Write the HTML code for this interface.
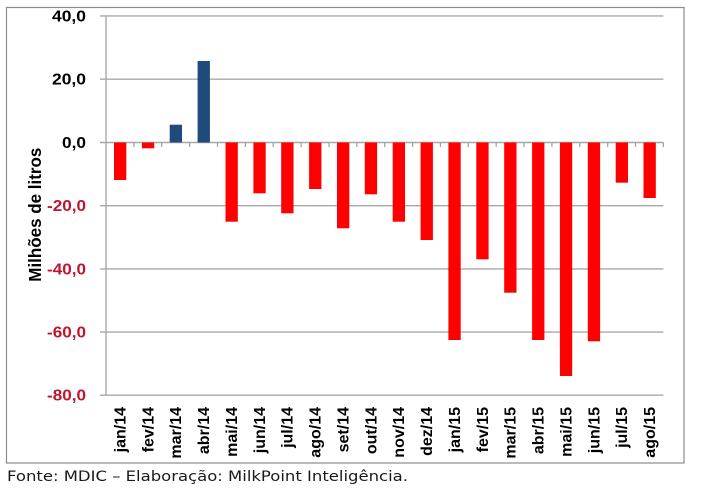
<!DOCTYPE html>
<html>
<head>
<meta charset="utf-8">
<style>
  html,body{margin:0;padding:0;background:#fff;}
  svg{display:block;}
</style>
</head>
<body>
<svg width="701" height="491" viewBox="0 0 701 491" xmlns="http://www.w3.org/2000/svg">
  <rect x="0" y="0" width="701" height="491" fill="#ffffff"/>
  <!-- outer border -->
  <rect x="6.5" y="7.5" width="677.5" height="455.5" fill="none" stroke="#8c8c8c" stroke-width="1.2"/>

  <!-- gridlines -->
  <g stroke="#a8a8a8" stroke-width="1.4">
    <line x1="100" y1="15.9" x2="663.4" y2="15.9"/>
    <line x1="100" y1="79.2" x2="663.4" y2="79.2"/>
    <line x1="100" y1="205.7" x2="663.4" y2="205.7"/>
    <line x1="100" y1="268.9" x2="663.4" y2="268.9"/>
    <line x1="100" y1="332.1" x2="663.4" y2="332.1"/>
    <line x1="100" y1="395.2" x2="663.4" y2="395.2"/>
    <line x1="100" y1="142.5" x2="663.4" y2="142.5"/>
    <!-- y axis -->
    <line x1="106" y1="15.9" x2="106" y2="395.2"/>
  </g>

  <!-- x ticks on zero line -->
  <g stroke="#a0a0a0" stroke-width="1.2">
    <line x1="133.9" y1="142.5" x2="133.9" y2="147"/>
    <line x1="161.7" y1="142.5" x2="161.7" y2="147"/>
    <line x1="189.6" y1="142.5" x2="189.6" y2="147"/>
    <line x1="217.5" y1="142.5" x2="217.5" y2="147"/>
    <line x1="245.4" y1="142.5" x2="245.4" y2="147"/>
    <line x1="273.2" y1="142.5" x2="273.2" y2="147"/>
    <line x1="301.1" y1="142.5" x2="301.1" y2="147"/>
    <line x1="329.0" y1="142.5" x2="329.0" y2="147"/>
    <line x1="356.8" y1="142.5" x2="356.8" y2="147"/>
    <line x1="384.7" y1="142.5" x2="384.7" y2="147"/>
    <line x1="412.6" y1="142.5" x2="412.6" y2="147"/>
    <line x1="440.4" y1="142.5" x2="440.4" y2="147"/>
    <line x1="468.3" y1="142.5" x2="468.3" y2="147"/>
    <line x1="496.2" y1="142.5" x2="496.2" y2="147"/>
    <line x1="524.1" y1="142.5" x2="524.1" y2="147"/>
    <line x1="551.9" y1="142.5" x2="551.9" y2="147"/>
    <line x1="579.8" y1="142.5" x2="579.8" y2="147"/>
    <line x1="607.7" y1="142.5" x2="607.7" y2="147"/>
    <line x1="635.5" y1="142.5" x2="635.5" y2="147"/>
    <line x1="663.4" y1="142.5" x2="663.4" y2="147"/>
  </g>

  <!-- bars -->
  <g fill="#ff0000">
    <rect x="114.0" y="142.5" width="12.3" height="37.5"/>
    <rect x="141.9" y="142.5" width="12.3" height="5.8"/>
    <rect x="225.5" y="142.5" width="12.3" height="79.2"/>
    <rect x="253.4" y="142.5" width="12.3" height="50.8"/>
    <rect x="281.2" y="142.5" width="12.3" height="70.8"/>
    <rect x="309.1" y="142.5" width="12.3" height="46.5"/>
    <rect x="337.0" y="142.5" width="12.3" height="85.8"/>
    <rect x="364.8" y="142.5" width="12.3" height="51.8"/>
    <rect x="392.7" y="142.5" width="12.3" height="79.2"/>
    <rect x="420.6" y="142.5" width="12.3" height="97.5"/>
    <rect x="448.4" y="142.5" width="12.3" height="197.5"/>
    <rect x="476.3" y="142.5" width="12.3" height="116.8"/>
    <rect x="504.2" y="142.5" width="12.3" height="150.2"/>
    <rect x="532.1" y="142.5" width="12.3" height="197.5"/>
    <rect x="559.9" y="142.5" width="12.3" height="233.5"/>
    <rect x="587.8" y="142.5" width="12.3" height="198.8"/>
    <rect x="615.7" y="142.5" width="12.3" height="40.2"/>
    <rect x="643.5" y="142.5" width="12.3" height="55.5"/>
  </g>
  <g fill="#1f4a7c">
    <rect x="169.7" y="124.7" width="12.3" height="17.8"/>
    <rect x="197.6" y="61" width="12.3" height="81.5"/>
  </g>

  <!-- y tick labels -->
  <g font-family="'Liberation Sans', Arial, sans-serif" font-weight="bold" font-size="15.5" text-anchor="end">
    <text x="86" y="21.4" fill="#000" textLength="34" lengthAdjust="spacingAndGlyphs">40,0</text>
    <text x="86" y="84.7" fill="#000" textLength="34" lengthAdjust="spacingAndGlyphs">20,0</text>
    <text x="86" y="148" fill="#000" textLength="24" lengthAdjust="spacingAndGlyphs">0,0</text>
    <text x="86" y="211.2" fill="#c0152f" textLength="39" lengthAdjust="spacingAndGlyphs">-20,0</text>
    <text x="86" y="274.4" fill="#c0152f" textLength="39" lengthAdjust="spacingAndGlyphs">-40,0</text>
    <text x="86" y="337.6" fill="#c0152f" textLength="39" lengthAdjust="spacingAndGlyphs">-60,0</text>
    <text x="86" y="400.7" fill="#c0152f" textLength="39" lengthAdjust="spacingAndGlyphs">-80,0</text>
  </g>

  <!-- y axis title -->
  <text transform="translate(41,214.7) rotate(-90)" font-family="'Liberation Sans', Arial, sans-serif" font-weight="bold" font-size="17.5" text-anchor="middle" fill="#000" textLength="134" lengthAdjust="spacingAndGlyphs">Milhões de litros</text>

  <!-- x labels -->
  <g font-family="'Liberation Sans', Arial, sans-serif" font-weight="bold" font-size="16" text-anchor="end" fill="#000">
    <text transform="translate(125.4,407) rotate(-90)">jan/14</text>
    <text transform="translate(153.3,407) rotate(-90)">fev/14</text>
    <text transform="translate(181.2,407) rotate(-90)">mar/14</text>
    <text transform="translate(209.1,407) rotate(-90)">abr/14</text>
    <text transform="translate(237.0,407) rotate(-90)">mai/14</text>
    <text transform="translate(264.8,407) rotate(-90)">jun/14</text>
    <text transform="translate(292.7,407) rotate(-90)">jul/14</text>
    <text transform="translate(320.6,407) rotate(-90)">ago/14</text>
    <text transform="translate(348.5,407) rotate(-90)">set/14</text>
    <text transform="translate(376.3,407) rotate(-90)">out/14</text>
    <text transform="translate(404.2,407) rotate(-90)">nov/14</text>
    <text transform="translate(432.1,407) rotate(-90)">dez/14</text>
    <text transform="translate(459.9,407) rotate(-90)">jan/15</text>
    <text transform="translate(487.8,407) rotate(-90)">fev/15</text>
    <text transform="translate(515.7,407) rotate(-90)">mar/15</text>
    <text transform="translate(543.5,407) rotate(-90)">abr/15</text>
    <text transform="translate(571.4,407) rotate(-90)">mai/15</text>
    <text transform="translate(599.3,407) rotate(-90)">jun/15</text>
    <text transform="translate(627.2,407) rotate(-90)">jul/15</text>
    <text transform="translate(655.0,407) rotate(-90)">ago/15</text>
  </g>

  <!-- footer -->
  <text x="7" y="481" font-family="'DejaVu Sans', Verdana, sans-serif" font-size="14.5" fill="#1a1a1a" textLength="401" lengthAdjust="spacingAndGlyphs">Fonte: MDIC – Elaboração: MilkPoint Inteligência.</text>
</svg>
</body>
</html>
